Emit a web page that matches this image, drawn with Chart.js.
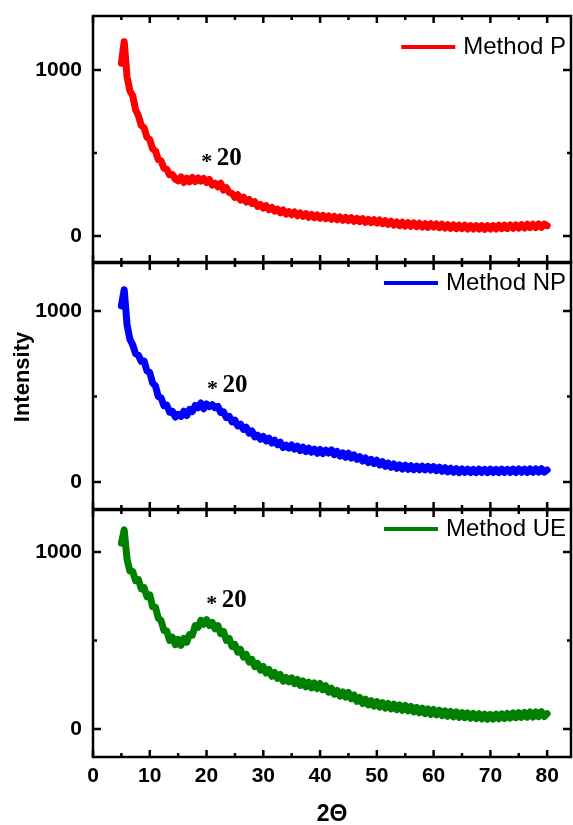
<!DOCTYPE html>
<html lang="en">
<head>
<meta charset="UTF-8">
<title>XRD patterns</title>
<script src="https://cdn.jsdelivr.net/npm/chart.js"></script>
<style>
  body { margin: 0; background: #fff; }
  #wrap { position: relative; width: 573px; height: 825px; }
  #wrap canvas { position: absolute; left: 0; top: 0; }
</style>
</head>
<body>
<div id="wrap">
  <canvas id="cP" width="573" height="825"></canvas>
  <canvas id="cNP" width="573" height="825"></canvas>
  <canvas id="cUE" width="573" height="825"></canvas>
</div>

<script>
// 2-theta grid (degrees)
const angle = [
  5, 5.5, 6, 6.5, 7, 7.5, 8, 8.5, 9, 9.5,
  10, 10.5, 11, 11.5, 12, 12.5, 13, 13.5, 14, 14.5,
  15, 15.5, 16, 16.5, 17, 17.5, 18, 18.5, 19, 19.5,
  20, 20.5, 21, 21.5, 22, 22.5, 23, 23.5, 24, 24.5,
  25, 25.5, 26, 26.5, 27, 27.5, 28, 28.5, 29, 29.5,
  30, 30.5, 31, 31.5, 32, 32.5, 33, 33.5, 34, 34.5,
  35, 35.5, 36, 36.5, 37, 37.5, 38, 38.5, 39, 39.5,
  40, 40.5, 41, 41.5, 42, 42.5, 43, 43.5, 44, 44.5,
  45, 45.5, 46, 46.5, 47, 47.5, 48, 48.5, 49, 49.5,
  50, 50.5, 51, 51.5, 52, 52.5, 53, 53.5, 54, 54.5,
  55, 55.5, 56, 56.5, 57, 57.5, 58, 58.5, 59, 59.5,
  60, 60.5, 61, 61.5, 62, 62.5, 63, 63.5, 64, 64.5,
  65, 65.5, 66, 66.5, 67, 67.5, 68, 68.5, 69, 69.5,
  70, 70.5, 71, 71.5, 72, 72.5, 73, 73.5, 74, 74.5,
  75, 75.5, 76, 76.5, 77, 77.5, 78, 78.5, 79, 79.5,
  80
];

const methodP = [
  1040, 1170, 960, 875, 845, 760, 725, 665, 652, 595,
  580, 525, 512, 460, 452, 408, 402, 368, 370, 342,
  332, 356, 322, 348, 326, 352, 328, 350, 330, 346,
  322, 340, 306, 318, 296, 318, 276, 290, 262, 256,
  232, 248, 216, 234, 204, 220, 196, 206, 178, 190,
  168, 182, 158, 172, 150, 162, 140, 156, 132, 146,
  128, 144, 122, 138, 118, 134, 112, 130, 110, 126,
  106, 124, 104, 120, 100, 118, 98, 114, 94, 112,
  92, 110, 88, 106, 86, 104, 82, 100, 80, 98,
  78, 96, 74, 92, 70, 88, 66, 84, 62, 82,
  60, 80, 58, 78, 56, 76, 54, 74, 52, 74,
  54, 72, 50, 70, 48, 68, 46, 66, 44, 64,
  44, 64, 42, 62, 42, 62, 42, 62, 40, 62,
  42, 62, 42, 64, 44, 64, 44, 66, 46, 66,
  48, 68, 48, 70, 50, 70, 50, 72, 52, 72,
  62
];

const methodNP = [
  1030, 1125, 920, 835, 802, 750, 742, 705, 708, 650,
  640, 580, 562, 500, 492, 446, 450, 408, 414, 380,
  396, 384, 414, 388, 424, 412, 448, 434, 462, 428,
  456, 440, 452, 434, 442, 406, 410, 376, 384, 352,
  362, 328, 338, 308, 320, 286, 298, 264, 274, 250,
  266, 240, 256, 228, 244, 218, 232, 202, 216, 198,
  216, 192, 210, 184, 204, 178, 198, 174, 192, 168,
  190, 166, 186, 170, 188, 160, 178, 152, 170, 144,
  168, 140, 158, 132, 148, 122, 140, 114, 132, 108,
  127, 100, 118, 92, 110, 86, 105, 80, 100, 76,
  98, 74, 95, 72, 93, 72, 92, 71, 91, 70,
  90, 66, 87, 62, 83, 59, 80, 57, 78, 55,
  76, 56, 75, 55, 74, 55, 75, 56, 74, 55,
  75, 56, 74, 55, 75, 56, 74, 56, 75, 55,
  76, 57, 75, 56, 76, 57, 76, 58, 77, 58,
  70
];

const methodUE = [
  1050, 1125, 958, 892, 890, 838, 844, 792, 798, 748,
  758, 690, 688, 626, 612, 556, 554, 500, 518, 476,
  506, 472, 512, 490, 534, 530, 584, 574, 614, 592,
  618, 584, 602, 566, 584, 538, 551, 500, 511, 466,
  477, 434, 449, 406, 421, 378, 393, 352, 370, 332,
  353, 316, 336, 298, 319, 286, 308, 270, 291, 266,
  289, 256, 280, 246, 272, 238, 264, 232, 260, 228,
  257, 222, 244, 208, 230, 196, 218, 186, 210, 180,
  206, 170, 192, 156, 178, 144, 168, 136, 160, 129,
  155, 124, 149, 118, 144, 114, 140, 110, 136, 106,
  133, 102, 128, 97, 122, 92, 118, 87, 113, 83,
  110, 80, 106, 76, 102, 72, 99, 69, 96, 66,
  93, 64, 91, 61, 88, 59, 86, 57, 84, 55,
  82, 56, 84, 58, 86, 60, 88, 62, 91, 64,
  93, 66, 94, 67, 96, 68, 97, 70, 98, 71,
  87
];

const xTicks = [0, 10, 20, 30, 40, 50, 60, 70, 80];
const xMinor = [5, 15, 25, 35, 45, 55, 65, 75];
const yTicks = [0, 1000];
const yMinor = [500];

const panels = [
  { id: 'cP', name: 'Method P', values: methodP, color: '#ff0000',
    top: 16, bottom: 563, yMin: -157, yMax: 1325, legendDy: 31, peakAt: [21.8, 428] },
  { id: 'cNP', name: 'Method NP', values: methodNP, color: '#0000ff',
    top: 263, bottom: 316, yMin: -158, yMax: 1281, legendDy: 20, peakAt: [22.8, 527] },
  { id: 'cUE', name: 'Method UE', values: methodUE, color: '#008000',
    top: 510, bottom: 0, yMin: -158, yMax: 1237, legendDy: 19, peakAt: [22.7, 690] }
];

// frame with inward ticks, legend entry and the peak label
const framePlugin = {
  id: 'frame',
  afterDraw(chart, args, opts) {
    const { ctx, chartArea: a } = chart;
    const x = chart.scales.x, y = chart.scales.y;
    ctx.save();
    ctx.strokeStyle = '#000';
    ctx.lineWidth = 2.5;
    ctx.strokeRect(a.left, a.top, a.right - a.left, a.bottom - a.top);

    ctx.beginPath();
    xTicks.forEach(v => {
      const px = x.getPixelForValue(v);
      ctx.moveTo(px, a.bottom); ctx.lineTo(px, a.bottom - 7);
      ctx.moveTo(px, a.top); ctx.lineTo(px, a.top + 7);
    });
    xMinor.forEach(v => {
      const px = x.getPixelForValue(v);
      ctx.moveTo(px, a.bottom); ctx.lineTo(px, a.bottom - 4);
      ctx.moveTo(px, a.top); ctx.lineTo(px, a.top + 4);
    });
    yTicks.forEach(v => {
      const py = y.getPixelForValue(v);
      ctx.moveTo(a.left, py); ctx.lineTo(a.left + 8, py);
      ctx.moveTo(a.right, py); ctx.lineTo(a.right - 8, py);
    });
    yMinor.forEach(v => {
      const py = y.getPixelForValue(v);
      ctx.moveTo(a.left, py); ctx.lineTo(a.left + 4, py);
      ctx.moveTo(a.right, py); ctx.lineTo(a.right - 4, py);
    });
    ctx.stroke();

    // legend
    ctx.font = '24px "Liberation Sans", Arial, sans-serif';
    ctx.fillStyle = '#000';
    ctx.textBaseline = 'middle';
    const tw = ctx.measureText(opts.name).width;
    const tx = a.right - 5 - tw;
    const ly = a.top + opts.legendDy;
    ctx.fillText(opts.name, tx, ly);
    ctx.strokeStyle = opts.color;
    ctx.lineWidth = 4;
    ctx.beginPath();
    ctx.moveTo(tx - 62, ly);
    ctx.lineTo(tx - 8, ly);
    ctx.stroke();

    // peak marker "* 20"
    const px = x.getPixelForValue(opts.peakAt[0]);
    const py = y.getPixelForValue(opts.peakAt[1]);
    ctx.textBaseline = 'alphabetic';
    ctx.fillStyle = '#000';
    ctx.font = 'bold 25px "Liberation Serif", "Times New Roman", serif';
    ctx.fillText('20', px, py);
    ctx.font = 'bold 22px "Liberation Serif", "Times New Roman", serif';
    ctx.textAlign = 'center';
    ctx.fillText('*', px - 10, py + 3);

    if (opts.yTitle) {
      ctx.translate(23, 377);
      ctx.rotate(-Math.PI / 2);
      ctx.textAlign = 'center';
      ctx.textBaseline = 'middle';
      ctx.font = 'bold 22px "Liberation Sans", Arial, sans-serif';
      ctx.fillText('Intensity', 0, 0);
    }
    ctx.restore();
  }
};

const tickFont = { family: '"Liberation Sans", Arial, sans-serif', size: 21, weight: 'bold' };

panels.forEach((p, i) => {
  const last = i === panels.length - 1;
  new Chart(document.getElementById(p.id), {
    type: 'line',
    data: {
      datasets: [{
        label: p.name,
        data: angle.map((a, k) => ({ x: a, y: p.values[k] })),
        borderColor: p.color,
        borderWidth: 7,
        borderJoinStyle: 'round',
        borderCapStyle: 'round',
        pointRadius: 0,
        tension: 0,
        fill: false
      }]
    },
    options: {
      responsive: false,
      devicePixelRatio: 1,
      animation: false,
      events: [],
      layout: { padding: { top: p.top, bottom: p.bottom, left: 0, right: 2 } },
      plugins: {
        legend: { display: false },
        tooltip: { enabled: false },
        frame: { name: p.name, color: p.color, legendDy: p.legendDy, peakAt: p.peakAt, yTitle: i === 1 }
      },
      scales: {
        x: {
          type: 'linear',
          min: 0,
          max: 84.2,
          display: last,
          afterBuildTicks: s => { s.ticks = xTicks.map(v => ({ value: v })); },
          afterFit: s => {
            if (last) s.height = 68;
            s.paddingLeft = 0; s.paddingRight = 0;
          },
          grid: { display: false, drawTicks: false },
          border: { display: false },
          ticks: { font: tickFont, color: '#000', padding: 7, maxRotation: 0, callback: v => String(v) },
          title: {
            display: true,
            text: '2Θ',
            color: '#000',
            font: { family: '"Liberation Sans", Arial, sans-serif', size: 23, weight: 'bold' },
            padding: { top: 0, bottom: -3 }
          }
        },
        y: {
          min: p.yMin,
          max: p.yMax,
          afterBuildTicks: s => { s.ticks = yTicks.map(v => ({ value: v })); },
          afterFit: s => {
            s.width = 93;
            s.paddingTop = 0; s.paddingBottom = 0;
          },
          grid: { display: false, drawTicks: false },
          border: { display: false },
          ticks: { font: tickFont, color: '#000', padding: 11, callback: v => String(v) }
        }
      }
    },
    plugins: [framePlugin]
  });
});
</script>
</body>
</html>
